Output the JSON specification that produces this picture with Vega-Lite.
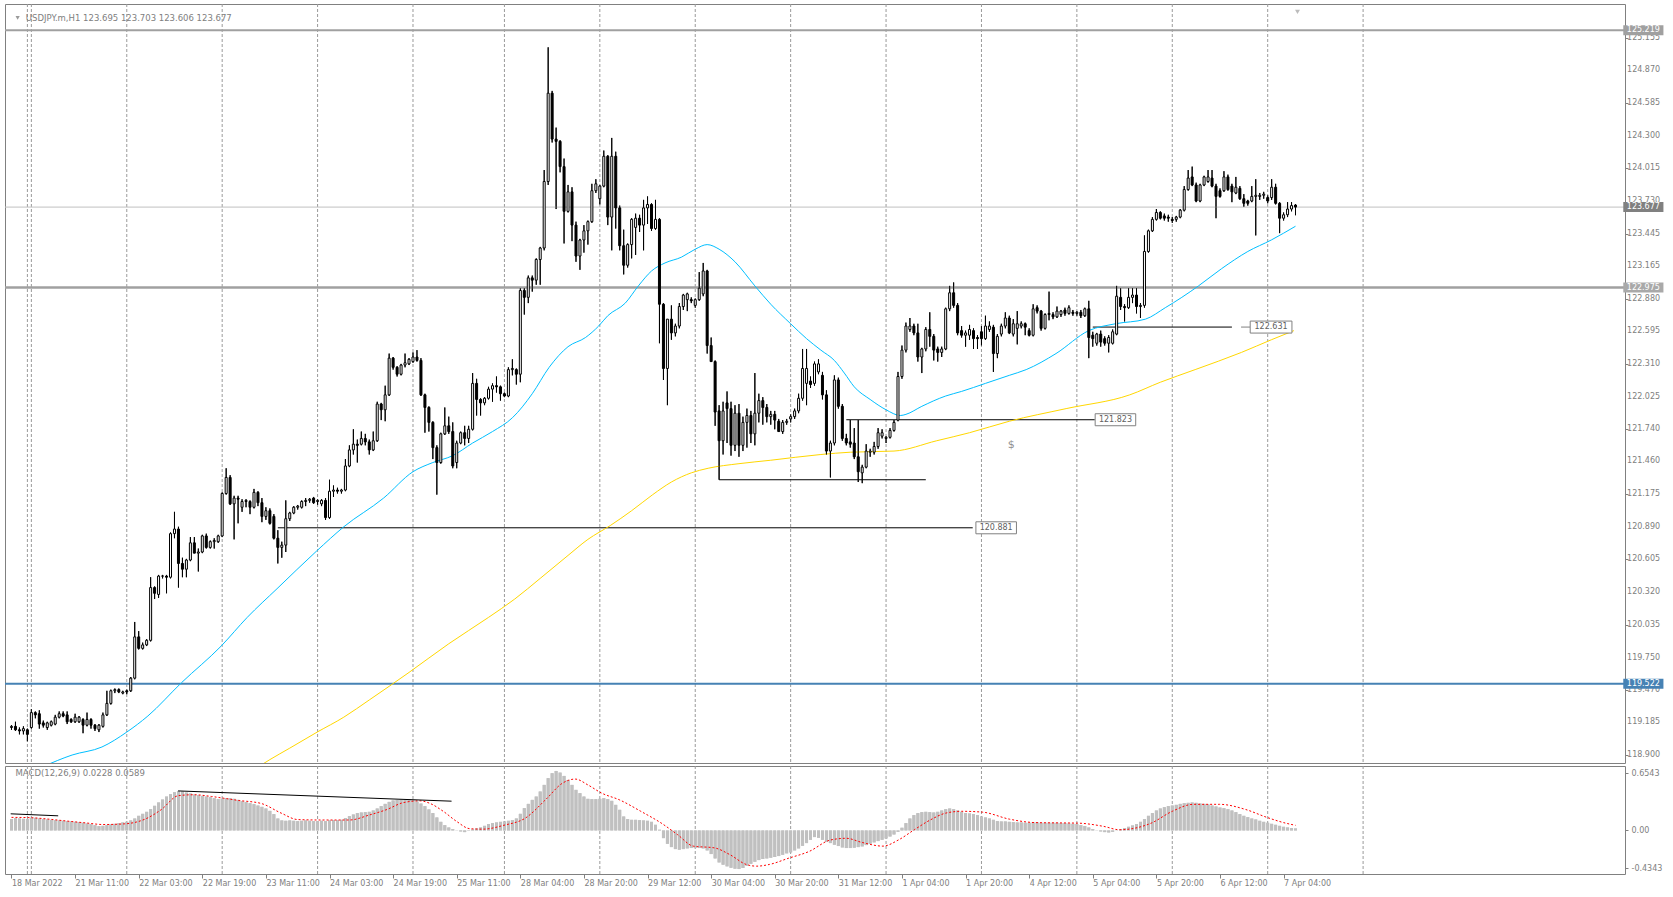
{
"$schema":"https://vega.github.io/schema/vega-lite/v6.json",
"autosize":{"type":"pad"},
"padding":{"left":3,"top":3,"right":2,"bottom":2},
"background":"white",
"bounds":"flush",
"spacing":3,
"config":{"view":{"stroke":"#808080","strokeWidth":1},"font":"DejaVu Sans","axis":{"labelFont":"DejaVu Sans","labelFontSize":8,"labelColor":"#808080","tickColor":"#808080","domain":false,"grid":false,"labelOverlap":false,"labelFlush":false,"labelBound":false}},
"datasets":{
"grid":[{"i":4},{"i":5},{"i":29},{"i":53},{"i":77},{"i":101},{"i":124},{"i":148},{"i":172},{"i":196},{"i":220},{"i":244},{"i":268},{"i":292},{"i":316},{"i":340}],
"yt":[{"v":125.155},{"v":124.87},{"v":124.585},{"v":124.3},{"v":124.015},{"v":123.73},{"v":123.445},{"v":123.165},{"v":122.88},{"v":122.595},{"v":122.31},{"v":122.025},{"v":121.74},{"v":121.46},{"v":121.175},{"v":120.89},{"v":120.605},{"v":120.32},{"v":120.035},{"v":119.75},{"v":119.47},{"v":119.185},{"v":118.9}],
"levels":[{"k":"top","v":125.219,"lab":"125.219"},{"k":"bid","v":123.677,"lab":"123.677"},{"k":"mid","v":122.975,"lab":"122.975"},{"k":"low","v":119.522,"lab":"119.522"}],
"tl":[{"a":67,"b":241.8,"v":120.881},{"a":210,"b":272.5,"v":121.823},{"a":178,"b":230,"v":121.3},{"a":272,"b":307,"v":122.631}],
"tags":[{"lab":"120.881","v":120.881},{"lab":"121.823","v":121.823},{"lab":"122.631","v":122.631}],
"mtl":[{"a":-0.2,"b":11.75,"v1":0.191,"v2":0.168},{"a":41.9,"b":110.7,"v1":0.454,"v2":0.336}],
"ma":[
{"k":"fast","i":8,"v":118.8},{"k":"fast","i":15.25,"v":118.9},{"k":"fast","i":22.75,"v":118.97},{"k":"fast","i":29,"v":119.1},{"k":"fast","i":34.3,"v":119.24},{"k":"fast","i":42.75,"v":119.53},{"k":"fast","i":52.75,"v":119.85},{"k":"fast","i":59.3,"v":120.1},{"k":"fast","i":66.8,"v":120.35},{"k":"fast","i":76.8,"v":120.68},{"k":"fast","i":83.6,"v":120.89},{"k":"fast","i":93.6,"v":121.14},{"k":"fast","i":101,"v":121.37},{"k":"fast","i":106,"v":121.45},{"k":"fast","i":111,"v":121.51},{"k":"fast","i":116,"v":121.62},{"k":"fast","i":121,"v":121.72},{"k":"fast","i":126,"v":121.84},{"k":"fast","i":131,"v":122.05},{"k":"fast","i":135.25,"v":122.28},{"k":"fast","i":140,"v":122.46},{"k":"fast","i":144.4,"v":122.54},{"k":"fast","i":147.7,"v":122.64},{"k":"fast","i":150,"v":122.73},{"k":"fast","i":154.4,"v":122.84},{"k":"fast","i":157.7,"v":122.99},{"k":"fast","i":161,"v":123.12},{"k":"fast","i":164.4,"v":123.19},{"k":"fast","i":168.5,"v":123.24},{"k":"fast","i":172,"v":123.31},{"k":"fast","i":175,"v":123.35},{"k":"fast","i":178,"v":123.31},{"k":"fast","i":182,"v":123.2},{"k":"fast","i":187,"v":122.99},{"k":"fast","i":191,"v":122.83},{"k":"fast","i":196,"v":122.66},{"k":"fast","i":200,"v":122.53},{"k":"fast","i":203.6,"v":122.43},{"k":"fast","i":207,"v":122.34},{"k":"fast","i":209.5,"v":122.23},{"k":"fast","i":212,"v":122.11},{"k":"fast","i":216,"v":122.0},{"k":"fast","i":220,"v":121.91},{"k":"fast","i":223.6,"v":121.86},{"k":"fast","i":225,"v":121.87},{"k":"fast","i":229,"v":121.94},{"k":"fast","i":235,"v":122.03},{"k":"fast","i":239,"v":122.07},{"k":"fast","i":245,"v":122.14},{"k":"fast","i":251,"v":122.21},{"k":"fast","i":255.25,"v":122.26},{"k":"fast","i":262.75,"v":122.4},{"k":"fast","i":271,"v":122.6},{"k":"fast","i":277.75,"v":122.66},{"k":"fast","i":285.25,"v":122.7},{"k":"fast","i":290.25,"v":122.8},{"k":"fast","i":294.4,"v":122.89},{"k":"fast","i":298.6,"v":122.99},{"k":"fast","i":304.4,"v":123.14},{"k":"fast","i":311,"v":123.29},{"k":"fast","i":316.9,"v":123.39},{"k":"fast","i":323,"v":123.51},
{"k":"slow","i":60,"v":118.75},{"k":"slow","i":65,"v":118.86},{"k":"slow","i":70,"v":118.96},{"k":"slow","i":76.9,"v":119.1},{"k":"slow","i":83.6,"v":119.23},{"k":"slow","i":90,"v":119.38},{"k":"slow","i":100,"v":119.62},{"k":"slow","i":110,"v":119.87},{"k":"slow","i":120,"v":120.1},{"k":"slow","i":126.6,"v":120.26},{"k":"slow","i":133,"v":120.44},{"k":"slow","i":140,"v":120.64},{"k":"slow","i":145,"v":120.78},{"k":"slow","i":150.6,"v":120.9},{"k":"slow","i":156,"v":121.03},{"k":"slow","i":161.3,"v":121.17},{"k":"slow","i":166,"v":121.28},{"k":"slow","i":171,"v":121.36},{"k":"slow","i":175.25,"v":121.4},{"k":"slow","i":183,"v":121.44},{"k":"slow","i":191,"v":121.47},{"k":"slow","i":203.6,"v":121.52},{"k":"slow","i":211,"v":121.54},{"k":"slow","i":222,"v":121.55},{"k":"slow","i":232.75,"v":121.64},{"k":"slow","i":241,"v":121.71},{"k":"slow","i":251,"v":121.81},{"k":"slow","i":265.3,"v":121.92},{"k":"slow","i":281.3,"v":122.04},{"k":"slow","i":289,"v":122.15},{"k":"slow","i":297.75,"v":122.26},{"k":"slow","i":309.4,"v":122.41},{"k":"slow","i":316.9,"v":122.52},{"k":"slow","i":322.6,"v":122.6}],
"sig":[{"i":0,"v":0.15},{"i":4,"v":0.148},{"i":7,"v":0.14},{"i":11,"v":0.122},{"i":15,"v":0.103},{"i":19,"v":0.085},{"i":23,"v":0.068},{"i":28.5,"v":0.076},{"i":33.6,"v":0.13},{"i":37.7,"v":0.24},{"i":42,"v":0.4},{"i":46,"v":0.41},{"i":50.3,"v":0.39},{"i":57,"v":0.345},{"i":62.8,"v":0.31},{"i":67.8,"v":0.2},{"i":72,"v":0.125},{"i":77.7,"v":0.12},{"i":85,"v":0.12},{"i":90.2,"v":0.18},{"i":94.4,"v":0.24},{"i":98.6,"v":0.32},{"i":102.8,"v":0.34},{"i":105.3,"v":0.31},{"i":108.6,"v":0.22},{"i":112,"v":0.103},{"i":115.3,"v":0.02},{"i":118.6,"v":0.015},{"i":123.9,"v":0.06},{"i":129.2,"v":0.14},{"i":134.5,"v":0.36},{"i":138.5,"v":0.54},{"i":141.8,"v":0.59},{"i":145.1,"v":0.52},{"i":148.4,"v":0.43},{"i":153,"v":0.35},{"i":158.3,"v":0.22},{"i":163.6,"v":0.08},{"i":167.6,"v":-0.05},{"i":171.5,"v":-0.18},{"i":176.8,"v":-0.2},{"i":180.8,"v":-0.28},{"i":184.8,"v":-0.39},{"i":187.4,"v":-0.41},{"i":190.7,"v":-0.39},{"i":195.4,"v":-0.32},{"i":200.7,"v":-0.24},{"i":206,"v":-0.11},{"i":210,"v":-0.09},{"i":213.9,"v":-0.137},{"i":219.2,"v":-0.18},{"i":223.2,"v":-0.107},{"i":227.1,"v":0.008},{"i":231.1,"v":0.12},{"i":235.1,"v":0.2},{"i":239,"v":0.22},{"i":244.3,"v":0.21},{"i":251,"v":0.13},{"i":257.6,"v":0.09},{"i":268.2,"v":0.084},{"i":274.8,"v":0.046},{"i":278.7,"v":0.008},{"i":282.7,"v":0.027},{"i":286.7,"v":0.084},{"i":292,"v":0.22},{"i":297.3,"v":0.3},{"i":303.9,"v":0.3},{"i":310.5,"v":0.24},{"i":315.8,"v":0.15},{"i":320,"v":0.09},{"i":323,"v":0.059}],
"candles":[
{"i":0,"o":119.14,"h":119.16,"l":119.12,"c":119.15,"m":0.13},
{"i":1,"o":119.15,"h":119.19,"l":119.11,"c":119.12,"m":0.141},
{"i":2,"o":119.12,"h":119.14,"l":119.08,"c":119.11,"m":0.137},
{"i":3,"o":119.11,"h":119.15,"l":119.08,"c":119.13,"m":0.134},
{"i":4,"o":119.12,"h":119.13,"l":119.02,"c":119.08,"m":0.13},
{"i":5,"o":119.14,"h":119.3,"l":119.13,"c":119.27,"m":0.145},
{"i":6,"o":119.27,"h":119.28,"l":119.22,"c":119.25,"m":0.145},
{"i":7,"o":119.26,"h":119.29,"l":119.13,"c":119.17,"m":0.137},
{"i":8,"o":119.18,"h":119.2,"l":119.14,"c":119.16,"m":0.13},
{"i":9,"o":119.14,"h":119.19,"l":119.12,"c":119.18,"m":0.126},
{"i":10,"o":119.16,"h":119.2,"l":119.15,"c":119.19,"m":0.122},
{"i":11,"o":119.17,"h":119.25,"l":119.16,"c":119.23,"m":0.118},
{"i":12,"o":119.23,"h":119.28,"l":119.22,"c":119.26,"m":0.115},
{"i":13,"o":119.26,"h":119.28,"l":119.23,"c":119.24,"m":0.111},
{"i":14,"o":119.25,"h":119.28,"l":119.17,"c":119.19,"m":0.107},
{"i":15,"o":119.21,"h":119.22,"l":119.18,"c":119.19,"m":0.103},
{"i":16,"o":119.19,"h":119.26,"l":119.18,"c":119.23,"m":0.099},
{"i":17,"o":119.19,"h":119.24,"l":119.18,"c":119.23,"m":0.095},
{"i":18,"o":119.21,"h":119.22,"l":119.09,"c":119.16,"m":0.088},
{"i":19,"o":119.16,"h":119.27,"l":119.15,"c":119.21,"m":0.08},
{"i":20,"o":119.21,"h":119.22,"l":119.13,"c":119.16,"m":0.073},
{"i":21,"o":119.16,"h":119.17,"l":119.11,"c":119.13,"m":0.061},
{"i":22,"o":119.12,"h":119.17,"l":119.1,"c":119.16,"m":0.05},
{"i":23,"o":119.15,"h":119.27,"l":119.14,"c":119.25,"m":0.053},
{"i":24,"o":119.25,"h":119.46,"l":119.24,"c":119.35,"m":0.061},
{"i":25,"o":119.35,"h":119.47,"l":119.34,"c":119.46,"m":0.069},
{"i":26,"o":119.46,"h":119.48,"l":119.44,"c":119.47,"m":0.076},
{"i":27,"o":119.47,"h":119.48,"l":119.44,"c":119.45,"m":0.084},
{"i":28,"o":119.44,"h":119.46,"l":119.43,"c":119.45,"m":0.092},
{"i":29,"o":119.46,"h":119.47,"l":119.43,"c":119.45,"m":0.099},
{"i":30,"o":119.46,"h":119.58,"l":119.45,"c":119.57,"m":0.115},
{"i":31,"o":119.57,"h":120.06,"l":119.56,"c":119.93,"m":0.137},
{"i":32,"o":119.93,"h":119.98,"l":119.82,"c":119.83,"m":0.168},
{"i":33,"o":119.83,"h":119.88,"l":119.82,"c":119.86,"m":0.191},
{"i":34,"o":119.86,"h":119.91,"l":119.85,"c":119.9,"m":0.214},
{"i":35,"o":119.9,"h":120.45,"l":119.89,"c":120.36,"m":0.244},
{"i":36,"o":120.36,"h":120.37,"l":120.26,"c":120.31,"m":0.283},
{"i":37,"o":120.3,"h":120.47,"l":120.27,"c":120.46,"m":0.321},
{"i":38,"o":120.46,"h":120.47,"l":120.44,"c":120.46,"m":0.355},
{"i":39,"o":120.46,"h":120.47,"l":120.31,"c":120.45,"m":0.389},
{"i":40,"o":120.45,"h":120.84,"l":120.44,"c":120.83,"m":0.416},
{"i":41,"o":120.83,"h":121.02,"l":120.79,"c":120.87,"m":0.439},
{"i":42,"o":120.87,"h":120.89,"l":120.36,"c":120.57,"m":0.451},
{"i":43,"o":120.57,"h":120.62,"l":120.45,"c":120.52,"m":0.447},
{"i":44,"o":120.52,"h":120.61,"l":120.45,"c":120.6,"m":0.435},
{"i":45,"o":120.6,"h":120.8,"l":120.59,"c":120.75,"m":0.424},
{"i":46,"o":120.75,"h":120.8,"l":120.66,"c":120.66,"m":0.412},
{"i":47,"o":120.66,"h":120.7,"l":120.5,"c":120.67,"m":0.405},
{"i":48,"o":120.67,"h":120.82,"l":120.66,"c":120.81,"m":0.397},
{"i":49,"o":120.81,"h":120.83,"l":120.7,"c":120.71,"m":0.389},
{"i":50,"o":120.71,"h":120.77,"l":120.7,"c":120.76,"m":0.382},
{"i":51,"o":120.76,"h":120.79,"l":120.7,"c":120.77,"m":0.37},
{"i":52,"o":120.76,"h":120.82,"l":120.75,"c":120.81,"m":0.359},
{"i":53,"o":120.81,"h":121.19,"l":120.8,"c":121.18,"m":0.363},
{"i":54,"o":121.18,"h":121.4,"l":121.17,"c":121.32,"m":0.37},
{"i":55,"o":121.32,"h":121.34,"l":121.08,"c":121.09,"m":0.37},
{"i":56,"o":121.09,"h":121.16,"l":120.78,"c":121.14,"m":0.363},
{"i":57,"o":121.14,"h":121.16,"l":120.92,"c":121.13,"m":0.351},
{"i":58,"o":121.06,"h":121.13,"l":121.02,"c":121.11,"m":0.336},
{"i":59,"o":121.11,"h":121.13,"l":121.06,"c":121.12,"m":0.325},
{"i":60,"o":121.11,"h":121.12,"l":121.0,"c":121.06,"m":0.313},
{"i":61,"o":121.06,"h":121.22,"l":121.05,"c":121.19,"m":0.302},
{"i":62,"o":121.19,"h":121.2,"l":121.07,"c":121.1,"m":0.286},
{"i":63,"o":121.1,"h":121.14,"l":120.93,"c":120.98,"m":0.271},
{"i":64,"o":120.98,"h":121.06,"l":120.95,"c":121.03,"m":0.252},
{"i":65,"o":121.03,"h":121.05,"l":120.91,"c":120.92,"m":0.225},
{"i":66,"o":120.98,"h":121.0,"l":120.78,"c":120.79,"m":0.187},
{"i":67,"o":120.79,"h":120.86,"l":120.57,"c":120.71,"m":0.137},
{"i":68,"o":120.71,"h":120.76,"l":120.62,"c":120.73,"m":0.115},
{"i":69,"o":120.73,"h":121.12,"l":120.67,"c":120.96,"m":0.111},
{"i":70,"o":120.96,"h":121.02,"l":120.94,"c":121.01,"m":0.115},
{"i":71,"o":121.01,"h":121.07,"l":121.0,"c":121.06,"m":0.111},
{"i":72,"o":121.06,"h":121.08,"l":121.04,"c":121.07,"m":0.107},
{"i":73,"o":121.06,"h":121.12,"l":121.05,"c":121.11,"m":0.111},
{"i":74,"o":121.11,"h":121.14,"l":121.07,"c":121.12,"m":0.115},
{"i":75,"o":121.12,"h":121.14,"l":121.1,"c":121.13,"m":0.111},
{"i":76,"o":121.14,"h":121.15,"l":121.09,"c":121.1,"m":0.107},
{"i":77,"o":121.11,"h":121.13,"l":121.08,"c":121.12,"m":0.107},
{"i":78,"o":121.09,"h":121.13,"l":121.07,"c":121.12,"m":0.111},
{"i":79,"o":121.12,"h":121.14,"l":120.95,"c":120.97,"m":0.107},
{"i":80,"o":120.97,"h":121.3,"l":120.96,"c":121.2,"m":0.115},
{"i":81,"o":121.2,"h":121.25,"l":121.15,"c":121.21,"m":0.118},
{"i":82,"o":121.21,"h":121.23,"l":121.18,"c":121.2,"m":0.118},
{"i":83,"o":121.2,"h":121.22,"l":121.18,"c":121.21,"m":0.122},
{"i":84,"o":121.21,"h":121.48,"l":121.2,"c":121.42,"m":0.141},
{"i":85,"o":121.42,"h":121.6,"l":121.41,"c":121.56,"m":0.164},
{"i":86,"o":121.56,"h":121.74,"l":121.52,"c":121.61,"m":0.183},
{"i":87,"o":121.61,"h":121.65,"l":121.45,"c":121.6,"m":0.199},
{"i":88,"o":121.61,"h":121.72,"l":121.6,"c":121.66,"m":0.206},
{"i":89,"o":121.66,"h":121.7,"l":121.6,"c":121.63,"m":0.21},
{"i":90,"o":121.63,"h":121.65,"l":121.52,"c":121.56,"m":0.214},
{"i":91,"o":121.56,"h":121.72,"l":121.55,"c":121.64,"m":0.229},
{"i":92,"o":121.64,"h":121.98,"l":121.63,"c":121.96,"m":0.252},
{"i":93,"o":121.96,"h":121.97,"l":121.82,"c":121.91,"m":0.279},
{"i":94,"o":121.91,"h":122.12,"l":121.81,"c":122.04,"m":0.305},
{"i":95,"o":122.04,"h":122.4,"l":122.03,"c":122.36,"m":0.328},
{"i":96,"o":122.36,"h":122.37,"l":122.26,"c":122.28,"m":0.344},
{"i":97,"o":122.28,"h":122.29,"l":122.2,"c":122.22,"m":0.351},
{"i":98,"o":122.22,"h":122.31,"l":122.21,"c":122.3,"m":0.355},
{"i":99,"o":122.3,"h":122.4,"l":122.28,"c":122.32,"m":0.355},
{"i":100,"o":122.31,"h":122.36,"l":122.3,"c":122.35,"m":0.355},
{"i":101,"o":122.33,"h":122.41,"l":122.32,"c":122.37,"m":0.347},
{"i":102,"o":122.37,"h":122.43,"l":122.33,"c":122.34,"m":0.332},
{"i":103,"o":122.34,"h":122.36,"l":122.03,"c":122.04,"m":0.309},
{"i":104,"o":122.04,"h":122.05,"l":121.71,"c":121.93,"m":0.279},
{"i":105,"o":121.93,"h":121.94,"l":121.72,"c":121.8,"m":0.241},
{"i":106,"o":121.8,"h":121.81,"l":121.48,"c":121.58,"m":0.199},
{"i":107,"o":121.58,"h":121.6,"l":121.17,"c":121.45,"m":0.149},
{"i":108,"o":121.45,"h":121.71,"l":121.44,"c":121.7,"m":0.099},
{"i":109,"o":121.7,"h":121.93,"l":121.69,"c":121.77,"m":0.061},
{"i":110,"o":121.77,"h":121.85,"l":121.7,"c":121.72,"m":0.034},
{"i":111,"o":121.72,"h":121.8,"l":121.4,"c":121.42,"m":0.015},
{"i":112,"o":121.45,"h":121.64,"l":121.4,"c":121.62,"m":0.002},
{"i":113,"o":121.62,"h":121.72,"l":121.61,"c":121.71,"m":-0.011},
{"i":114,"o":121.71,"h":121.77,"l":121.6,"c":121.66,"m":-0.019},
{"i":115,"o":121.66,"h":121.77,"l":121.62,"c":121.74,"m":-0.004},
{"i":116,"o":121.74,"h":122.23,"l":121.73,"c":122.14,"m":0.011},
{"i":117,"o":122.14,"h":122.18,"l":121.86,"c":122.0,"m":0.023},
{"i":118,"o":122.0,"h":122.01,"l":121.86,"c":121.97,"m":0.034},
{"i":119,"o":121.97,"h":122.02,"l":121.95,"c":122.01,"m":0.053},
{"i":120,"o":122.01,"h":122.11,"l":122.0,"c":122.09,"m":0.073},
{"i":121,"o":122.09,"h":122.14,"l":121.98,"c":122.12,"m":0.084},
{"i":122,"o":122.12,"h":122.2,"l":122.06,"c":122.11,"m":0.092},
{"i":123,"o":122.11,"h":122.12,"l":121.99,"c":122.05,"m":0.099},
{"i":124,"o":122.05,"h":122.06,"l":122.02,"c":122.03,"m":0.103},
{"i":125,"o":122.03,"h":122.28,"l":122.02,"c":122.26,"m":0.111},
{"i":126,"o":122.26,"h":122.35,"l":122.21,"c":122.27,"m":0.118},
{"i":127,"o":122.26,"h":122.27,"l":122.13,"c":122.22,"m":0.137},
{"i":128,"o":122.22,"h":122.97,"l":122.15,"c":122.95,"m":0.191},
{"i":129,"o":122.95,"h":122.97,"l":122.74,"c":122.89,"m":0.256},
{"i":130,"o":122.89,"h":123.08,"l":122.84,"c":123.06,"m":0.305},
{"i":131,"o":123.06,"h":123.08,"l":122.94,"c":123.04,"m":0.351},
{"i":132,"o":123.04,"h":123.23,"l":123.0,"c":123.22,"m":0.389},
{"i":133,"o":123.22,"h":123.33,"l":123.0,"c":123.32,"m":0.447},
{"i":134,"o":123.32,"h":124.0,"l":123.3,"c":123.9,"m":0.523},
{"i":135,"o":123.9,"h":125.07,"l":123.87,"c":124.67,"m":0.6},
{"i":136,"o":124.67,"h":124.69,"l":124.24,"c":124.27,"m":0.657},
{"i":137,"o":124.27,"h":124.37,"l":123.66,"c":124.25,"m":0.683},
{"i":138,"o":124.25,"h":124.26,"l":123.98,"c":124.03,"m":0.664},
{"i":139,"o":124.03,"h":124.1,"l":123.36,"c":123.64,"m":0.626},
{"i":140,"o":123.64,"h":123.87,"l":123.63,"c":123.81,"m":0.58},
{"i":141,"o":123.81,"h":123.85,"l":123.38,"c":123.52,"m":0.523},
{"i":142,"o":123.52,"h":123.55,"l":123.2,"c":123.25,"m":0.466},
{"i":143,"o":123.25,"h":123.4,"l":123.13,"c":123.39,"m":0.428},
{"i":144,"o":123.39,"h":123.52,"l":123.28,"c":123.47,"m":0.389},
{"i":145,"o":123.47,"h":123.56,"l":123.35,"c":123.55,"m":0.363},
{"i":146,"o":123.55,"h":123.88,"l":123.54,"c":123.82,"m":0.359},
{"i":147,"o":123.82,"h":123.92,"l":123.8,"c":123.88,"m":0.359},
{"i":148,"o":123.75,"h":123.87,"l":123.7,"c":123.86,"m":0.363},
{"i":149,"o":123.86,"h":124.17,"l":123.85,"c":124.12,"m":0.37},
{"i":150,"o":124.12,"h":124.13,"l":123.52,"c":123.59,"m":0.359},
{"i":151,"o":123.59,"h":124.28,"l":123.3,"c":124.12,"m":0.34},
{"i":152,"o":124.12,"h":124.16,"l":123.49,"c":123.67,"m":0.294},
{"i":153,"o":123.67,"h":123.69,"l":123.3,"c":123.34,"m":0.237},
{"i":154,"o":123.34,"h":123.48,"l":123.09,"c":123.17,"m":0.16},
{"i":155,"o":123.17,"h":123.36,"l":123.15,"c":123.35,"m":0.13},
{"i":156,"o":123.35,"h":123.58,"l":123.23,"c":123.57,"m":0.122},
{"i":157,"o":123.5,"h":123.62,"l":123.26,"c":123.58,"m":0.122},
{"i":158,"o":123.58,"h":123.61,"l":123.46,"c":123.52,"m":0.118},
{"i":159,"o":123.52,"h":123.74,"l":123.3,"c":123.67,"m":0.115},
{"i":160,"o":123.67,"h":123.77,"l":123.53,"c":123.7,"m":0.111},
{"i":161,"o":123.7,"h":123.71,"l":123.47,"c":123.49,"m":0.099},
{"i":162,"o":123.49,"h":123.74,"l":123.48,"c":123.57,"m":0.065},
{"i":163,"o":123.57,"h":123.58,"l":122.49,"c":122.83,"m":0.008},
{"i":164,"o":122.83,"h":122.84,"l":122.17,"c":122.27,"m":-0.088},
{"i":165,"o":122.27,"h":122.7,"l":121.95,"c":122.7,"m":-0.153},
{"i":166,"o":122.7,"h":122.82,"l":122.52,"c":122.58,"m":-0.191},
{"i":167,"o":122.58,"h":122.66,"l":122.55,"c":122.64,"m":-0.214},
{"i":168,"o":122.64,"h":122.84,"l":122.62,"c":122.81,"m":-0.221},
{"i":169,"o":122.81,"h":122.92,"l":122.78,"c":122.91,"m":-0.214},
{"i":170,"o":122.87,"h":122.93,"l":122.77,"c":122.92,"m":-0.206},
{"i":171,"o":122.87,"h":122.89,"l":122.84,"c":122.86,"m":-0.202},
{"i":172,"o":122.82,"h":122.88,"l":122.8,"c":122.87,"m":-0.202},
{"i":173,"o":122.87,"h":123.11,"l":122.86,"c":122.97,"m":-0.202},
{"i":174,"o":122.92,"h":123.19,"l":122.9,"c":123.12,"m":-0.206},
{"i":175,"o":123.12,"h":123.13,"l":122.4,"c":122.47,"m":-0.229},
{"i":176,"o":122.47,"h":122.54,"l":122.33,"c":122.33,"m":-0.271},
{"i":177,"o":122.33,"h":122.34,"l":121.77,"c":121.89,"m":-0.321},
{"i":178,"o":121.9,"h":121.95,"l":121.3,"c":121.64,"m":-0.367},
{"i":179,"o":121.64,"h":121.98,"l":121.52,"c":121.9,"m":-0.393},
{"i":180,"o":121.97,"h":122.07,"l":121.62,"c":121.92,"m":-0.412},
{"i":181,"o":121.92,"h":121.98,"l":121.51,"c":121.6,"m":-0.428},
{"i":182,"o":121.6,"h":121.95,"l":121.55,"c":121.88,"m":-0.439},
{"i":183,"o":121.88,"h":121.96,"l":121.5,"c":121.6,"m":-0.443},
{"i":184,"o":121.6,"h":121.85,"l":121.55,"c":121.8,"m":-0.431},
{"i":185,"o":121.8,"h":121.92,"l":121.58,"c":121.86,"m":-0.405},
{"i":186,"o":121.86,"h":121.9,"l":121.62,"c":121.7,"m":-0.382},
{"i":187,"o":121.7,"h":122.23,"l":121.6,"c":121.88,"m":-0.359},
{"i":188,"o":121.88,"h":122.05,"l":121.8,"c":121.99,"m":-0.34},
{"i":189,"o":121.99,"h":122.02,"l":121.78,"c":121.93,"m":-0.328},
{"i":190,"o":121.93,"h":121.96,"l":121.8,"c":121.85,"m":-0.321},
{"i":191,"o":121.85,"h":121.9,"l":121.78,"c":121.87,"m":-0.313},
{"i":192,"o":121.87,"h":121.9,"l":121.74,"c":121.82,"m":-0.305},
{"i":193,"o":121.81,"h":121.83,"l":121.72,"c":121.72,"m":-0.294},
{"i":194,"o":121.72,"h":121.82,"l":121.7,"c":121.8,"m":-0.279},
{"i":195,"o":121.8,"h":121.83,"l":121.78,"c":121.81,"m":-0.263},
{"i":196,"o":121.83,"h":121.87,"l":121.8,"c":121.85,"m":-0.252},
{"i":197,"o":121.85,"h":121.92,"l":121.83,"c":121.9,"m":-0.229},
{"i":198,"o":121.9,"h":122.05,"l":121.88,"c":122.01,"m":-0.206},
{"i":199,"o":122.01,"h":122.44,"l":121.99,"c":122.27,"m":-0.176},
{"i":200,"o":122.14,"h":122.44,"l":121.95,"c":122.27,"m":-0.145},
{"i":201,"o":122.16,"h":122.2,"l":122.1,"c":122.13,"m":-0.107},
{"i":202,"o":122.14,"h":122.33,"l":122.12,"c":122.31,"m":-0.076},
{"i":203,"o":122.24,"h":122.35,"l":122.22,"c":122.31,"m":-0.084},
{"i":204,"o":122.21,"h":122.24,"l":122.0,"c":122.04,"m":-0.107},
{"i":205,"o":122.04,"h":122.08,"l":121.52,"c":121.55,"m":-0.13},
{"i":206,"o":121.55,"h":121.64,"l":121.32,"c":121.62,"m":-0.145},
{"i":207,"o":121.62,"h":122.21,"l":121.6,"c":122.17,"m":-0.164},
{"i":208,"o":122.17,"h":122.19,"l":121.92,"c":121.94,"m":-0.179},
{"i":209,"o":121.94,"h":121.96,"l":121.64,"c":121.66,"m":-0.195},
{"i":210,"o":121.66,"h":121.7,"l":121.6,"c":121.62,"m":-0.202},
{"i":211,"o":121.63,"h":121.82,"l":121.58,"c":121.61,"m":-0.202},
{"i":212,"o":121.62,"h":121.75,"l":121.48,"c":121.5,"m":-0.198},
{"i":213,"o":121.5,"h":121.82,"l":121.28,"c":121.37,"m":-0.191},
{"i":214,"o":121.36,"h":121.43,"l":121.27,"c":121.41,"m":-0.183},
{"i":215,"o":121.41,"h":121.61,"l":121.4,"c":121.55,"m":-0.168},
{"i":216,"o":121.54,"h":121.57,"l":121.5,"c":121.55,"m":-0.153},
{"i":217,"o":121.54,"h":121.63,"l":121.52,"c":121.59,"m":-0.137},
{"i":218,"o":121.59,"h":121.75,"l":121.57,"c":121.71,"m":-0.122},
{"i":219,"o":121.68,"h":121.74,"l":121.66,"c":121.71,"m":-0.107},
{"i":220,"o":121.66,"h":121.68,"l":121.62,"c":121.67,"m":-0.092},
{"i":221,"o":121.67,"h":121.75,"l":121.66,"c":121.73,"m":-0.069},
{"i":222,"o":121.73,"h":121.82,"l":121.72,"c":121.8,"m":-0.046},
{"i":223,"o":121.82,"h":122.24,"l":121.81,"c":122.2,"m":-0.015},
{"i":224,"o":122.2,"h":122.47,"l":122.18,"c":122.43,"m":0.031},
{"i":225,"o":122.43,"h":122.67,"l":122.41,"c":122.64,"m":0.084},
{"i":226,"o":122.61,"h":122.71,"l":122.59,"c":122.64,"m":0.137},
{"i":227,"o":122.64,"h":122.66,"l":122.56,"c":122.58,"m":0.176},
{"i":228,"o":122.58,"h":122.66,"l":122.33,"c":122.37,"m":0.199},
{"i":229,"o":122.37,"h":122.45,"l":122.23,"c":122.44,"m":0.21},
{"i":230,"o":122.44,"h":122.63,"l":122.42,"c":122.61,"m":0.214},
{"i":231,"o":122.61,"h":122.76,"l":122.46,"c":122.55,"m":0.21},
{"i":232,"o":122.55,"h":122.57,"l":122.34,"c":122.43,"m":0.206},
{"i":233,"o":122.44,"h":122.46,"l":122.33,"c":122.41,"m":0.214},
{"i":234,"o":122.41,"h":122.46,"l":122.37,"c":122.44,"m":0.229},
{"i":235,"o":122.44,"h":122.8,"l":122.43,"c":122.79,"m":0.244},
{"i":236,"o":122.79,"h":122.99,"l":122.77,"c":122.93,"m":0.252},
{"i":237,"o":122.93,"h":123.02,"l":122.8,"c":122.82,"m":0.244},
{"i":238,"o":122.82,"h":122.84,"l":122.56,"c":122.58,"m":0.229},
{"i":239,"o":122.6,"h":122.64,"l":122.54,"c":122.56,"m":0.214},
{"i":240,"o":122.56,"h":122.6,"l":122.46,"c":122.58,"m":0.199},
{"i":241,"o":122.56,"h":122.65,"l":122.52,"c":122.61,"m":0.195},
{"i":242,"o":122.6,"h":122.62,"l":122.44,"c":122.53,"m":0.187},
{"i":243,"o":122.54,"h":122.56,"l":122.44,"c":122.53,"m":0.176},
{"i":244,"o":122.59,"h":122.64,"l":122.47,"c":122.53,"m":0.16},
{"i":245,"o":122.53,"h":122.73,"l":122.52,"c":122.64,"m":0.149},
{"i":246,"o":122.61,"h":122.68,"l":122.59,"c":122.64,"m":0.137},
{"i":247,"o":122.63,"h":122.65,"l":122.24,"c":122.4,"m":0.122},
{"i":248,"o":122.4,"h":122.57,"l":122.36,"c":122.55,"m":0.107},
{"i":249,"o":122.57,"h":122.66,"l":122.55,"c":122.64,"m":0.103},
{"i":250,"o":122.64,"h":122.76,"l":122.62,"c":122.71,"m":0.103},
{"i":251,"o":122.71,"h":122.73,"l":122.57,"c":122.58,"m":0.099},
{"i":252,"o":122.57,"h":122.7,"l":122.55,"c":122.66,"m":0.096},
{"i":253,"o":122.62,"h":122.77,"l":122.48,"c":122.66,"m":0.092},
{"i":254,"o":122.64,"h":122.68,"l":122.62,"c":122.66,"m":0.092},
{"i":255,"o":122.66,"h":122.67,"l":122.56,"c":122.63,"m":0.088},
{"i":256,"o":122.6,"h":122.62,"l":122.55,"c":122.56,"m":0.088},
{"i":257,"o":122.56,"h":122.83,"l":122.55,"c":122.79,"m":0.092},
{"i":258,"o":122.8,"h":122.82,"l":122.75,"c":122.77,"m":0.092},
{"i":259,"o":122.77,"h":122.78,"l":122.6,"c":122.62,"m":0.088},
{"i":260,"o":122.62,"h":122.75,"l":122.61,"c":122.74,"m":0.088},
{"i":261,"o":122.75,"h":122.94,"l":122.69,"c":122.74,"m":0.088},
{"i":262,"o":122.74,"h":122.76,"l":122.7,"c":122.72,"m":0.088},
{"i":263,"o":122.72,"h":122.81,"l":122.71,"c":122.77,"m":0.088},
{"i":264,"o":122.74,"h":122.78,"l":122.72,"c":122.77,"m":0.084},
{"i":265,"o":122.78,"h":122.8,"l":122.73,"c":122.75,"m":0.084},
{"i":266,"o":122.75,"h":122.82,"l":122.74,"c":122.8,"m":0.08},
{"i":267,"o":122.76,"h":122.78,"l":122.73,"c":122.75,"m":0.076},
{"i":268,"o":122.75,"h":122.77,"l":122.73,"c":122.76,"m":0.073},
{"i":269,"o":122.76,"h":122.78,"l":122.71,"c":122.73,"m":0.061},
{"i":270,"o":122.73,"h":122.8,"l":122.72,"c":122.79,"m":0.05},
{"i":271,"o":122.79,"h":122.86,"l":122.36,"c":122.54,"m":0.034},
{"i":272,"o":122.56,"h":122.59,"l":122.46,"c":122.53,"m":0.015},
{"i":273,"o":122.49,"h":122.58,"l":122.47,"c":122.57,"m":0.002},
{"i":274,"o":122.57,"h":122.6,"l":122.46,"c":122.5,"m":-0.011},
{"i":275,"o":122.53,"h":122.55,"l":122.47,"c":122.49,"m":-0.019},
{"i":276,"o":122.49,"h":122.56,"l":122.41,"c":122.54,"m":-0.023},
{"i":277,"o":122.49,"h":122.61,"l":122.48,"c":122.59,"m":-0.015},
{"i":278,"o":122.57,"h":122.99,"l":122.56,"c":122.9,"m":0.002},
{"i":279,"o":122.89,"h":122.97,"l":122.78,"c":122.81,"m":0.015},
{"i":280,"o":122.81,"h":122.83,"l":122.68,"c":122.8,"m":0.027},
{"i":281,"o":122.8,"h":122.97,"l":122.79,"c":122.89,"m":0.042},
{"i":282,"o":122.89,"h":122.97,"l":122.84,"c":122.91,"m":0.057},
{"i":283,"o":122.91,"h":122.97,"l":122.75,"c":122.81,"m":0.073},
{"i":284,"o":122.81,"h":122.84,"l":122.71,"c":122.82,"m":0.099},
{"i":285,"o":122.82,"h":123.43,"l":122.8,"c":123.29,"m":0.13},
{"i":286,"o":123.29,"h":123.48,"l":123.28,"c":123.47,"m":0.168},
{"i":287,"o":123.47,"h":123.59,"l":123.46,"c":123.57,"m":0.199},
{"i":288,"o":123.57,"h":123.66,"l":123.56,"c":123.63,"m":0.229},
{"i":289,"o":123.63,"h":123.64,"l":123.57,"c":123.58,"m":0.252},
{"i":290,"o":123.6,"h":123.62,"l":123.56,"c":123.58,"m":0.267},
{"i":291,"o":123.59,"h":123.61,"l":123.55,"c":123.58,"m":0.279},
{"i":292,"o":123.57,"h":123.59,"l":123.54,"c":123.56,"m":0.286},
{"i":293,"o":123.57,"h":123.6,"l":123.55,"c":123.59,"m":0.294},
{"i":294,"o":123.59,"h":123.66,"l":123.58,"c":123.65,"m":0.305},
{"i":295,"o":123.65,"h":123.86,"l":123.64,"c":123.83,"m":0.313},
{"i":296,"o":123.83,"h":124.0,"l":123.82,"c":123.93,"m":0.317},
{"i":297,"o":123.94,"h":124.03,"l":123.86,"c":123.87,"m":0.321},
{"i":298,"o":123.87,"h":123.89,"l":123.72,"c":123.73,"m":0.317},
{"i":299,"o":123.73,"h":123.88,"l":123.72,"c":123.87,"m":0.309},
{"i":300,"o":123.87,"h":123.95,"l":123.86,"c":123.94,"m":0.305},
{"i":301,"o":123.9,"h":124.0,"l":123.89,"c":123.94,"m":0.298},
{"i":302,"o":123.93,"h":124.0,"l":123.85,"c":123.86,"m":0.286},
{"i":303,"o":123.86,"h":123.88,"l":123.58,"c":123.77,"m":0.275},
{"i":304,"o":123.82,"h":123.84,"l":123.76,"c":123.77,"m":0.263},
{"i":305,"o":123.82,"h":123.99,"l":123.81,"c":123.94,"m":0.256},
{"i":306,"o":123.94,"h":123.96,"l":123.82,"c":123.83,"m":0.244},
{"i":307,"o":123.86,"h":123.88,"l":123.72,"c":123.81,"m":0.229},
{"i":308,"o":123.8,"h":123.94,"l":123.79,"c":123.85,"m":0.21},
{"i":309,"o":123.84,"h":123.86,"l":123.74,"c":123.75,"m":0.187},
{"i":310,"o":123.75,"h":123.79,"l":123.68,"c":123.71,"m":0.168},
{"i":311,"o":123.73,"h":123.74,"l":123.69,"c":123.71,"m":0.153},
{"i":312,"o":123.73,"h":123.86,"l":123.72,"c":123.77,"m":0.137},
{"i":313,"o":123.77,"h":123.92,"l":123.43,"c":123.78,"m":0.126},
{"i":314,"o":123.77,"h":123.8,"l":123.74,"c":123.78,"m":0.111},
{"i":315,"o":123.78,"h":123.81,"l":123.75,"c":123.79,"m":0.099},
{"i":316,"o":123.76,"h":123.78,"l":123.71,"c":123.73,"m":0.088},
{"i":317,"o":123.76,"h":123.92,"l":123.74,"c":123.85,"m":0.076},
{"i":318,"o":123.85,"h":123.88,"l":123.7,"c":123.71,"m":0.065},
{"i":319,"o":123.71,"h":123.72,"l":123.45,"c":123.58,"m":0.053},
{"i":320,"o":123.58,"h":123.63,"l":123.56,"c":123.61,"m":0.042},
{"i":321,"o":123.61,"h":123.72,"l":123.59,"c":123.66,"m":0.034},
{"i":322,"o":123.66,"h":123.72,"l":123.64,"c":123.69,"m":0.027},
{"i":323,"o":123.695,"h":123.703,"l":123.606,"c":123.677,"m":0.0228}
]},
"vconcat":[
{"width":1620,"height":759,
"layer":[
{"data":{"name":"candles"},"mark":{"type":"rule","color":"black","strokeWidth":1},
 "encoding":{"x":{"field":"i","type":"quantitative","scale":{"domain":[-0.375,404.625],"nice":false,"zero":false},"axis":{"labels":false,"ticks":false,"domain":false,"title":null}},
 "y":{"field":"l","type":"quantitative","scale":{"domain":[118.874,125.404],"nice":false,"zero":false},
  "axis":{"orient":"right","title":null,"labels":false,"values":[125.155,124.87,124.585,124.3,124.015,123.73,123.445,123.165,122.88,122.595,122.31,122.025,121.74,121.46,121.175,120.89,120.605,120.32,120.035,119.75,119.47,119.185,118.9],"tickSize":3}},
 "y2":{"field":"h"}}},
{"data":{"name":"yt"},"mark":{"type":"text","color":"#808080","fontSize":8,"font":"DejaVu Sans","align":"left","baseline":"middle"},
 "encoding":{"x":{"datum":406.4,"type":"quantitative","scale":{"domain":[-0.375,404.625],"nice":false,"zero":false}},
 "y":{"field":"v","type":"quantitative","scale":{"domain":[118.874,125.404],"nice":false,"zero":false}},
 "text":{"field":"v","type":"quantitative","format":".3f"}}},
{"data":{"name":"grid"},"mark":{"type":"rule","color":"#9a9a9a","strokeDash":[3,2],"strokeWidth":1},
 "encoding":{"x":{"field":"i","type":"quantitative","scale":{"domain":[-0.375,404.625],"nice":false,"zero":false}}}},
{"data":{"name":"levels"},"transform":[{"filter":"datum.k == 'top'"}],"mark":{"type":"rule","color":"#a0a0a0","strokeWidth":2},
 "encoding":{"y":{"field":"v","type":"quantitative","scale":{"domain":[118.874,125.404],"nice":false,"zero":false}}}},
{"data":{"name":"levels"},"transform":[{"filter":"datum.k == 'bid'"}],"mark":{"type":"rule","color":"#c0c0c0","strokeWidth":1},
 "encoding":{"y":{"field":"v","type":"quantitative","scale":{"domain":[118.874,125.404],"nice":false,"zero":false}}}},
{"data":{"name":"levels"},"transform":[{"filter":"datum.k == 'mid'"}],"mark":{"type":"rule","color":"#a0a0a0","strokeWidth":2.5},
 "encoding":{"y":{"field":"v","type":"quantitative","scale":{"domain":[118.874,125.404],"nice":false,"zero":false}}}},
{"data":{"name":"levels"},"transform":[{"filter":"datum.k == 'low'"}],"mark":{"type":"rule","color":"#4682b4","strokeWidth":2},
 "encoding":{"y":{"field":"v","type":"quantitative","scale":{"domain":[118.874,125.404],"nice":false,"zero":false}}}},
{"data":{"name":"tl"},"mark":{"type":"rule","color":"black","strokeWidth":1},
 "encoding":{"x":{"field":"a","type":"quantitative","scale":{"domain":[-0.375,404.625],"nice":false,"zero":false}},"x2":{"field":"b"},
 "y":{"field":"v","type":"quantitative","scale":{"domain":[118.874,125.404],"nice":false,"zero":false}}}},
{"data":{"name":"ma"},"transform":[{"filter":"datum.k == 'fast'"}],"mark":{"type":"line","color":"#00bfff","strokeWidth":1,"clip":true,"interpolate":"monotone"},
 "encoding":{"x":{"field":"i","type":"quantitative","scale":{"domain":[-0.375,404.625],"nice":false,"zero":false}},
 "y":{"field":"v","type":"quantitative","scale":{"domain":[118.874,125.404],"nice":false,"zero":false}}}},
{"data":{"name":"ma"},"transform":[{"filter":"datum.k == 'slow'"}],"mark":{"type":"line","color":"#ffd700","strokeWidth":1,"clip":true,"interpolate":"monotone"},
 "encoding":{"x":{"field":"i","type":"quantitative","scale":{"domain":[-0.375,404.625],"nice":false,"zero":false}},
 "y":{"field":"v","type":"quantitative","scale":{"domain":[118.874,125.404],"nice":false,"zero":false}}}},
{"data":{"name":"candles"},"mark":{"type":"rule","color":"black","strokeWidth":1},
 "encoding":{"x":{"field":"i","type":"quantitative","scale":{"domain":[-0.375,404.625],"nice":false,"zero":false}},
 "y":{"field":"l","type":"quantitative","scale":{"domain":[118.874,125.404],"nice":false,"zero":false}},
 "y2":{"field":"h"}}},
{"data":{"name":"candles"},"mark":{"type":"bar","size":2,"stroke":"black","strokeWidth":1},
 "encoding":{"x":{"field":"i","type":"quantitative","scale":{"domain":[-0.375,404.625],"nice":false,"zero":false}},
 "y":{"field":"o","type":"quantitative","scale":{"domain":[118.874,125.404],"nice":false,"zero":false}},
 "y2":{"field":"c"},
 "fill":{"condition":{"test":"datum.c >= datum.o","value":"white"},"value":"black"}}},
{"data":{"name":"levels"},"mark":{"type":"bar","size":10},
 "encoding":{"x":{"datum":405.45,"type":"quantitative","scale":{"domain":[-0.375,404.625],"nice":false,"zero":false}},"x2":{"datum":415.55},
 "y":{"field":"v","type":"quantitative","scale":{"domain":[118.874,125.404],"nice":false,"zero":false}},
 "fill":{"field":"k","type":"nominal","scale":{"domain":["top","bid","mid","low"],"range":["#a0a0a0","#808080","#a9a9a9","#4682b4"]},"legend":null}}},
{"data":{"name":"levels"},"mark":{"type":"text","color":"white","fontSize":8,"font":"DejaVu Sans","align":"center","baseline":"middle"},
 "encoding":{"x":{"datum":410.5,"type":"quantitative","scale":{"domain":[-0.375,404.625],"nice":false,"zero":false}},
 "y":{"field":"v","type":"quantitative","scale":{"domain":[118.874,125.404],"nice":false,"zero":false}},
 "text":{"field":"lab"}}},
{"data":{"name":"tags"},"transform":[{"filter":"datum.lab == '122.631'"}],"mark":{"type":"rule","color":"#808080","strokeWidth":1},
 "encoding":{"x":{"datum":309.3,"type":"quantitative","scale":{"domain":[-0.375,404.625],"nice":false,"zero":false}},"x2":{"datum":311.6},
 "y":{"field":"v","type":"quantitative","scale":{"domain":[118.874,125.404],"nice":false,"zero":false}}}},
{"data":{"name":"tags"},"transform":[{"filter":"datum.lab == '120.881'"}],"mark":{"type":"bar","size":12,"fill":"white","stroke":"#808080","strokeWidth":1},
 "encoding":{"x":{"datum":242.6,"type":"quantitative","scale":{"domain":[-0.375,404.625],"nice":false,"zero":false}},"x2":{"datum":252.8},
 "y":{"field":"v","type":"quantitative","scale":{"domain":[118.874,125.404],"nice":false,"zero":false}}}},
{"data":{"name":"tags"},"transform":[{"filter":"datum.lab == '121.823'"}],"mark":{"type":"bar","size":12,"fill":"white","stroke":"#808080","strokeWidth":1},
 "encoding":{"x":{"datum":272.6,"type":"quantitative","scale":{"domain":[-0.375,404.625],"nice":false,"zero":false}},"x2":{"datum":282.8},
 "y":{"field":"v","type":"quantitative","scale":{"domain":[118.874,125.404],"nice":false,"zero":false}}}},
{"data":{"name":"tags"},"transform":[{"filter":"datum.lab == '122.631'"}],"mark":{"type":"bar","size":12,"fill":"white","stroke":"#808080","strokeWidth":1},
 "encoding":{"x":{"datum":311.6,"type":"quantitative","scale":{"domain":[-0.375,404.625],"nice":false,"zero":false}},"x2":{"datum":322.1},
 "y":{"field":"v","type":"quantitative","scale":{"domain":[118.874,125.404],"nice":false,"zero":false}}}},
{"data":{"name":"tags"},"transform":[{"filter":"datum.lab == '120.881'"}],"mark":{"type":"text","color":"#606060","fontSize":8,"font":"DejaVu Sans","align":"center","baseline":"middle"},
 "encoding":{"x":{"datum":247.7,"type":"quantitative","scale":{"domain":[-0.375,404.625],"nice":false,"zero":false}},
 "y":{"field":"v","type":"quantitative","scale":{"domain":[118.874,125.404],"nice":false,"zero":false}},"text":{"field":"lab"}}},
{"data":{"name":"tags"},"transform":[{"filter":"datum.lab == '121.823'"}],"mark":{"type":"text","color":"#606060","fontSize":8,"font":"DejaVu Sans","align":"center","baseline":"middle"},
 "encoding":{"x":{"datum":277.7,"type":"quantitative","scale":{"domain":[-0.375,404.625],"nice":false,"zero":false}},
 "y":{"field":"v","type":"quantitative","scale":{"domain":[118.874,125.404],"nice":false,"zero":false}},"text":{"field":"lab"}}},
{"data":{"name":"tags"},"transform":[{"filter":"datum.lab == '122.631'"}],"mark":{"type":"text","color":"#606060","fontSize":8,"font":"DejaVu Sans","align":"center","baseline":"middle"},
 "encoding":{"x":{"datum":316.85,"type":"quantitative","scale":{"domain":[-0.375,404.625],"nice":false,"zero":false}},
 "y":{"field":"v","type":"quantitative","scale":{"domain":[118.874,125.404],"nice":false,"zero":false}},"text":{"field":"lab"}}},
{"data":{"values":[{"t":"$"}]},"mark":{"type":"text","color":"#909090","fontSize":11,"font":"DejaVu Sans","align":"center","baseline":"middle"},
 "encoding":{"x":{"datum":251.5,"type":"quantitative","scale":{"domain":[-0.375,404.625],"nice":false,"zero":false}},
 "y":{"datum":121.6,"type":"quantitative","scale":{"domain":[118.874,125.404],"nice":false,"zero":false}},"text":{"field":"t"}}},
{"data":{"values":[{"t":"USDJPY.m,H1  123.695 123.703 123.606 123.677"}]},"mark":{"type":"text","color":"#808080","fontSize":8.5,"font":"DejaVu Sans","align":"left","baseline":"middle"},
 "encoding":{"x":{"datum":3.6,"type":"quantitative","scale":{"domain":[-0.375,404.625],"nice":false,"zero":false}},
 "y":{"datum":125.327,"type":"quantitative","scale":{"domain":[118.874,125.404],"nice":false,"zero":false}},"text":{"field":"t"}}},
{"data":{"values":[{"t":"hdr","i":1.55,"v":125.327}]},"mark":{"type":"point","shape":"triangle-down","filled":true,"color":"#707070","size":18},
 "encoding":{"x":{"field":"i","type":"quantitative","scale":{"domain":[-0.375,404.625],"nice":false,"zero":false}},
 "y":{"field":"v","type":"quantitative","scale":{"domain":[118.874,125.404],"nice":false,"zero":false}}}},
{"data":{"values":[{"t":"shift","i":323.5,"v":125.378}]},"mark":{"type":"point","shape":"triangle-down","filled":true,"color":"#a0a0a0","size":24},
 "encoding":{"x":{"field":"i","type":"quantitative","scale":{"domain":[-0.375,404.625],"nice":false,"zero":false}},
 "y":{"field":"v","type":"quantitative","scale":{"domain":[118.874,125.404],"nice":false,"zero":false}}}}
]},
{"width":1620,"height":108,
"layer":[
{"data":{"name":"candles"},"mark":{"type":"bar","size":3,"color":"#c0c0c0"},
 "encoding":{"x":{"field":"i","type":"quantitative","scale":{"domain":[-0.375,404.625],"nice":false,"zero":false},
  "axis":{"orient":"bottom","title":null,"labelOverlap":false,"labelBound":false,"labelFlush":false,"values":[0,16,32,48,64,80,96,112,128,144,160,176,192,208,224,240,256,272,288,304,320],
   "labelExpr":"['18 Mar 2022','21 Mar 11:00','22 Mar 03:00','22 Mar 19:00','23 Mar 11:00','24 Mar 03:00','24 Mar 19:00','25 Mar 11:00','28 Mar 04:00','28 Mar 20:00','29 Mar 12:00','30 Mar 04:00','30 Mar 20:00','31 Mar 12:00','1 Apr 04:00','1 Apr 20:00','4 Apr 12:00','5 Apr 04:00','5 Apr 20:00','6 Apr 12:00','7 Apr 04:00'][round(datum.value/16)]",
   "labelAlign":"left","labelBaseline":"top","labelPadding":1,"labelDx":0,"tickSize":4}},
 "y":{"field":"m","type":"quantitative","scale":{"domain":[-0.5,0.74],"nice":false,"zero":false},
  "axis":{"orient":"right","title":null,"labelOverlap":false,"labelBound":false,"labelFlush":false,"values":[0.6543,0,-0.4343],"labelExpr":"datum.value > 0.5 ? '0.6543' : (datum.value < -0.4 ? '-0.4343' : '0.00')","tickSize":3,"labelPadding":3}},
 "y2":{"datum":0}}},
{"data":{"name":"grid"},"mark":{"type":"rule","color":"#9a9a9a","strokeDash":[3,2],"strokeWidth":1},
 "encoding":{"x":{"field":"i","type":"quantitative","scale":{"domain":[-0.375,404.625],"nice":false,"zero":false}}}},
{"data":{"name":"candles"},"mark":{"type":"bar","size":3,"color":"#c0c0c0"},
 "encoding":{"x":{"field":"i","type":"quantitative","scale":{"domain":[-0.375,404.625],"nice":false,"zero":false}},
 "y":{"field":"m","type":"quantitative","scale":{"domain":[-0.5,0.74],"nice":false,"zero":false}},
 "y2":{"datum":0}}},
{"data":{"name":"sig"},"mark":{"type":"line","color":"#ff0000","strokeWidth":1,"strokeDash":[2,2],"interpolate":"monotone"},
 "encoding":{"x":{"field":"i","type":"quantitative","scale":{"domain":[-0.375,404.625],"nice":false,"zero":false}},
 "y":{"field":"v","type":"quantitative","scale":{"domain":[-0.5,0.74],"nice":false,"zero":false}}}},
{"data":{"name":"mtl"},"mark":{"type":"rule","color":"black","strokeWidth":1},
 "encoding":{"x":{"field":"a","type":"quantitative","scale":{"domain":[-0.375,404.625],"nice":false,"zero":false}},"x2":{"field":"b"},
 "y":{"field":"v1","type":"quantitative","scale":{"domain":[-0.5,0.74],"nice":false,"zero":false}},"y2":{"field":"v2"}}},
{"data":{"values":[{"t":"MACD(12,26,9) 0.0228 0.0589"}]},"mark":{"type":"text","color":"#808080","fontSize":8.5,"font":"DejaVu Sans","align":"left","baseline":"middle"},
 "encoding":{"x":{"datum":1,"type":"quantitative","scale":{"domain":[-0.375,404.625],"nice":false,"zero":false}},
 "y":{"datum":0.6543,"type":"quantitative","scale":{"domain":[-0.5,0.74],"nice":false,"zero":false}},"text":{"field":"t"}}}
]}
]
}
